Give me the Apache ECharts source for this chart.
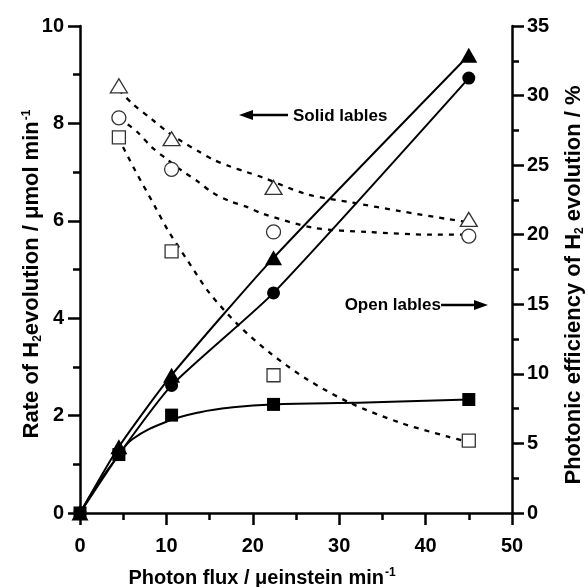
<!DOCTYPE html>
<html>
<head>
<meta charset="utf-8">
<script src="https://cdn.jsdelivr.net/npm/echarts@6/dist/echarts.min.js"></script>
<style>
html,body{margin:0;padding:0;background:#fff;}
#chart{width:588px;height:587px;}
</style>
</head>
<body>
<div id="chart"></div>
<script>
// measured points, rate (left axis)
var fluxVals = [0, 4.5, 10.6, 22.4, 45];
var rateTri = [0, 1.36, 2.83, 5.24, 9.4];
var rateCirc = [0, 1.2, 2.62, 4.52, 8.93];
var rateSq = [0, 1.2, 2.01, 2.23, 2.33];

// photonic efficiency (right axis), open symbols
var effFlux = [4.5, 10.6, 22.4, 45];
var effTri = [30.7, 26.9, 23.4, 21.1];
var effCirc = [28.4, 24.7, 20.2, 19.9];
var effSq = [27.0, 18.8, 9.9, 5.2];

// fitted curves
var sqFitX = [0, 2, 4.3, 6.1, 10.1, 13.9, 17.7, 22.2, 33.2, 45];
var sqFitY = [0, 0.58, 1.15, 1.52, 1.88, 2.07, 2.17, 2.23, 2.27, 2.33];
var effTriFitX = [4.5, 6.1, 8.3, 10.1, 11.8, 13.7, 15.4, 17.4, 19.3, 21.2, 26.3, 31.6, 37, 42.8, 45];
var effTriFitY = [30.4, 29.4, 28.3, 27.4, 26.7, 26.0, 25.4, 24.9, 24.5, 24.1, 22.9, 22.3, 21.7, 21.1, 20.9];
var effCircFitX = [4.5, 6.6, 8.3, 10.1, 11.8, 13.7, 15.4, 17.4, 19.3, 21.2, 27, 33.2, 40.9, 45];
var effCircFitY = [28.4, 27.4, 26.3, 25.4, 24.6, 23.8, 23.0, 22.4, 22.0, 21.5, 20.5, 20.2, 20.0, 20.0];
var effSqFitX = [4.4, 6.4, 8.7, 10.2, 12.5, 15, 18.5, 22, 26.3, 31.3, 37, 42.5, 45];
var effSqFitY = [27.0, 24.6, 22.0, 20.3, 18.1, 15.8, 13.4, 11.5, 9.6, 7.9, 6.5, 5.5, 5.1];

function pairs(xs, ys){
	var out = [];
	for (var i = 0; i < xs.length; i++) out.push([xs[i], ys[i]]);
	return out;
}

var font = 'Liberation Sans, Arial, sans-serif';
var chart = echarts.init(document.getElementById('chart'));

function solidLine(xs, ys, yi, sm){
	return {type:'line', yAxisIndex:yi, data:pairs(xs, ys), showSymbol:false, smooth:sm,
		lineStyle:{color:'#000', width:2}, z:2, silent:true};
}
function dashLine(xs, ys){
	return {type:'line', yAxisIndex:1, data:pairs(xs, ys), showSymbol:false, smooth:0.3,
		lineStyle:{color:'#000', width:2.3, type:[5, 6]}, z:2, silent:true};
}
function solidPts(ys, sym, size){
	return {type:'scatter', yAxisIndex:0, data:pairs(fluxVals, ys), symbol:sym, symbolSize:size,
		itemStyle:{color:'#000', opacity:1}, z:4};
}
function openPts(ys, sym, size){
	return {type:'scatter', yAxisIndex:1, data:pairs(effFlux, ys), symbol:sym, symbolSize:size,
		itemStyle:{color:'#fff', borderColor:'#333', borderWidth:1.3, opacity:1}, z:3};
}

var axisLbl = {color:'#000', fontFamily:font, fontWeight:'bold', fontSize:20};
var axisLn = {show:true, onZero:false, lineStyle:{color:'#000', width:2.5}};
var tick = {show:true, length:12, lineStyle:{color:'#000', width:2.5}};
var minor = {show:true, splitNumber:2, length:7, lineStyle:{color:'#000', width:2.5}};
var supStyle = {fontSize:12, fontWeight:'bold', fontFamily:font, verticalAlign:'top', padding:[0,0,11,1]};
var subStyle = {fontSize:12, fontWeight:'bold', fontFamily:font, verticalAlign:'bottom', padding:[11,0,0,0]};

option = {
	animation:false,
	grid:{left:80, right:76, top:26, bottom:74},
	xAxis:{
		type:'value', min:0, max:50, interval:10,
		axisLine:axisLn, axisTick:tick, minorTick:minor,
		axisLabel:Object.assign({margin:23}, axisLbl),
		splitLine:{show:false}
	},
	yAxis:[{
		type:'value', min:0, max:10, interval:2, position:'left',
		axisLine:axisLn, axisTick:tick, minorTick:minor,
		axisLabel:Object.assign({margin:16}, axisLbl),
		splitLine:{show:false}
	},{
		type:'value', min:0, max:35, interval:5, position:'right',
		axisLine:axisLn, axisTick:tick, minorTick:minor,
		axisLabel:Object.assign({margin:15}, axisLbl),
		splitLine:{show:false}
	}],
	series:[
		solidLine(fluxVals, rateTri, 0, 0.2),
		solidLine(fluxVals, rateCirc, 0, 0.2),
		solidLine(sqFitX, sqFitY, 0, 0.4),
		dashLine(effTriFitX, effTriFitY),
		dashLine(effCircFitX, effCircFitY),
		dashLine(effSqFitX, effSqFitY),
		openPts(effTri, 'triangle', [17, 14]),
		openPts(effCirc, 'circle', 14),
		openPts(effSq, 'rect', 13),
		solidPts(rateTri, 'triangle', [17, 15]),
		solidPts(rateCirc, 'circle', 13),
		solidPts(rateSq, 'rect', 13)
	],
	graphic:[
		// x axis title
		{type:'text', x:262, y:578, style:{
			text:'Photon flux / μeinstein min{sup|-1}',
			font:'bold 20px ' + font, fill:'#000', align:'center', verticalAlign:'middle',
			rich:{sup:supStyle}
		}},
		// left axis title
		{type:'text', x:32, y:274, rotation:Math.PI/2, style:{
			text:'Rate of H{sub|2}evolution / μmol min{sup|-1}',
			font:'bold 22px ' + font, fill:'#000', align:'center', verticalAlign:'middle',
			rich:{sup:supStyle, sub:subStyle}
		}},
		// right axis title
		{type:'text', x:574, y:285, rotation:Math.PI/2, style:{
			text:'Photonic efficiency of H{sub|2} evolution / %',
			font:'bold 22px ' + font, fill:'#000', align:'center', verticalAlign:'middle',
			rich:{sub:subStyle}
		}},
		// "Solid lables" annotation
		{type:'line', shape:{x1:288, y1:115, x2:250, y2:115}, style:{stroke:'#000', lineWidth:2.5}},
		{type:'polygon', shape:{points:[[239,115],[253,110],[253,120]]}, style:{fill:'#000'}},
		{type:'text', x:293, y:116, style:{text:'Solid lables', font:'bold 17px ' + font, fill:'#000', align:'left', verticalAlign:'middle'}},
		// "Open lables" annotation
		{type:'text', x:441, y:305, style:{text:'Open lables', font:'bold 17px ' + font, fill:'#000', align:'right', verticalAlign:'middle'}},
		{type:'line', shape:{x1:441, y1:305, x2:476, y2:305}, style:{stroke:'#000', lineWidth:2.5}},
		{type:'polygon', shape:{points:[[488,305],[474,300],[474,310]]}, style:{fill:'#000'}}
	]
};
chart.setOption(option);
</script>
</body>
</html>
